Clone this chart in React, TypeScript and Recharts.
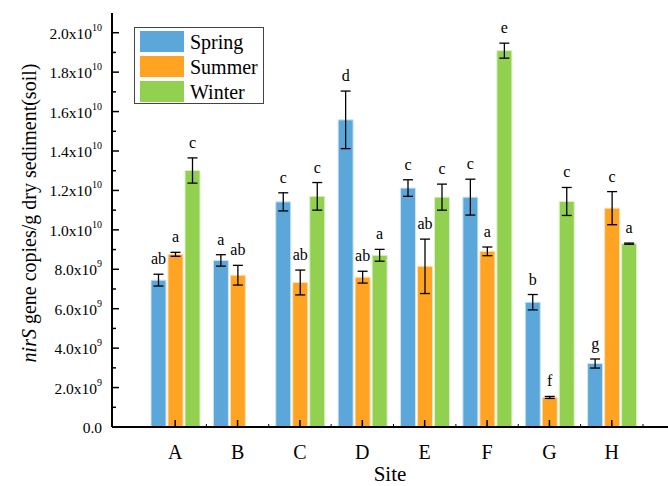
import React from "react";
import { BarChart, Bar, XAxis, YAxis, ErrorBar, LabelList, Legend } from "recharts";

const sites = ["A", "B", "C", "D", "E", "F", "G", "H"];

const spring = [7.45e9, 8.45e9, 1.142e10, 1.558e10, 1.212e10, 1.166e10, 6.33e9, 3.22e9];
const springErr = [3.0e8, 2.9e8, 4.6e8, 1.46e9, 4.2e8, 9.1e8, 3.9e8, 2.3e8];
const springSig = ["ab", "a", "c", "d", "c", "c", "b", "g"];

const summer = [8.76e9, 7.7e9, 7.33e9, 7.6e9, 8.15e9, 8.91e9, 1.5e9, 1.11e10];
const summerErr = [1.0e8, 5.0e8, 6.3e8, 3.0e8, 1.38e9, 2.2e8, 5.0e7, 8.4e8];
const summerSig = ["a", "ab", "ab", "ab", "ab", "a", "f", "c"];

const winter = [1.301e10, null, 1.17e10, 8.71e9, 1.166e10, 1.909e10, 1.144e10, 9.3e9];
const winterErr = [6.4e8, null, 7.0e8, 3.0e8, 6.6e8, 3.8e8, 7.1e8, 3.0e7];
const winterSig = ["c", "", "c", "a", "c", "e", "c", "a"];

const yTicks = [
  0, 1e9, 2e9, 3e9, 4e9, 5e9, 6e9, 7e9, 8e9, 9e9, 1e10,
  1.1e10, 1.2e10, 1.3e10, 1.4e10, 1.5e10, 1.6e10, 1.7e10, 1.8e10, 1.9e10, 2e10,
];

const data = sites.map((site, i) => ({
  site,
  spring: spring[i],
  springErr: springErr[i],
  summer: summer[i],
  summerErr: summerErr[i],
  winter: winter[i],
  winterErr: winterErr[i],
}));

const FONT = "'Liberation Serif', 'Times New Roman', serif";
const W = 668;
const H = 486;
const LEFT = 112;
const PAD_L = 32;
const PAD_R = 25;
const STEP = (W - LEFT - PAD_L - PAD_R) / sites.length;

const YTick = (props: any) => {
  const { x, y, payload } = props;
  const v = payload.value as number;
  const major = Math.round(v / 1e9) % 2 === 0;
  let label: React.ReactNode = null;
  if (major) {
    if (v === 0) {
      label = "0.0";
    } else {
      const exp = Math.floor(Math.log10(v) + 1e-9);
      const m = (v / Math.pow(10, exp)).toFixed(1);
      label = (
        <>
          <tspan>{m}x10</tspan>
          <tspan dy={-8} fontSize={10}>{exp}</tspan>
        </>
      );
    }
  }
  return (
    <g>
      <line x1={x} y1={y} x2={x + (major ? 7 : 4)} y2={y} stroke="#000" strokeWidth={1.5} />
      {label && (
        <text x={x - 10} y={y + 6} textAnchor="end" fontFamily={FONT} fontSize={15.5} fill="#000">
          {label}
        </text>
      )}
    </g>
  );
};

const BottomTick = (props: any) => {
  const { x, y, payload } = props;
  return (
    <g>
      <line x1={x} y1={y} x2={x} y2={y - 7} stroke="#000" strokeWidth={1.5} />
      <line x1={x + STEP / 2} y1={y} x2={x + STEP / 2} y2={y - 3} stroke="#000" strokeWidth={1} />
      <text x={x} y={y + 32} textAnchor="middle" fontFamily={FONT} fontSize={20} fill="#000">
        {payload.value}
      </text>
    </g>
  );
};

const TopTick = (props: any) => {
  const { x, y } = props;
  return (
    <g>
      <line x1={x} y1={y} x2={x} y2={y + 3} stroke="#000" strokeWidth={1} />
      <line x1={x + STEP / 2} y1={y} x2={x + STEP / 2} y2={y + 3} stroke="#000" strokeWidth={1} />
      <line x1={x - STEP / 2} y1={y} x2={x - STEP / 2} y2={y + 3} stroke="#000" strokeWidth={1} />
    </g>
  );
};

const YLabel = () => {
  const cx = 31;
  const cy = 213;
  return (
    <text
      x={cx}
      y={cy}
      transform={`rotate(-90, ${cx}, ${cy})`}
      textAnchor="middle"
      dominantBaseline="middle"
      fontFamily={FONT}
      fontSize={20}
      fill="#000"
    >
      <tspan fontStyle="italic">nirS</tspan>
      <tspan> gene copies/g dry sediment(soil)</tspan>
    </text>
  );
};

const XLabel = (props: any) => {
  const vb = props.viewBox || {};
  const cx = (vb.x ?? LEFT) + (vb.width ?? 556) / 2;
  return (
    <text x={cx} y={481} textAnchor="middle" fontFamily={FONT} fontSize={21} fill="#000">
      Site
    </text>
  );
};

const makeSig = (vals: (number | null)[], errs: (number | null)[], sig: string[]) => (props: any) => {
  const { x, y, width, height, value } = props;
  const i = sites.indexOf(value);
  if (i < 0) return null;
  const v = vals[i];
  const e = errs[i];
  const s = sig[i];
  if (!s || v == null || e == null || !height) return null;
  const errPx = (e * height) / v;
  return (
    <text x={x + width / 2} y={y - errPx - 10} textAnchor="middle" fontFamily={FONT} fontSize={16} fill="#000">
      {s}
    </text>
  );
};

const LegendBox = (props: any) => {
  const items = props.payload || [];
  return (
    <div
      style={{
        border: "1px solid #444",
        width: 130,
        height: 77,
        boxSizing: "border-box",
        paddingTop: 1,
        paddingLeft: 5,
        background: "#fff",
      }}
    >
      {items.map((it: any) => (
        <div key={it.value} style={{ display: "flex", alignItems: "center", height: 25 }}>
          <div style={{ width: 44, height: 21, background: it.color }} />
          <span style={{ marginLeft: 6, fontSize: 20, fontFamily: FONT, color: "#000", lineHeight: "20px" }}>
            {it.value}
          </span>
        </div>
      ))}
    </div>
  );
};

const siteOf = (d: any) => d.site;

export default function App() {
  return (
    <div style={{ position: "absolute", left: 0, top: 0, width: W, height: H, background: "#fff" }}>
      <BarChart
        width={W}
        height={H}
        data={data}
        margin={{ top: 13, right: 0, bottom: 0, left: 0 }}
        barSize={15}
        barGap={2}
      >
        <XAxis
          dataKey="site"
          height={59}
          padding={{ left: PAD_L, right: PAD_R }}
          axisLine={{ stroke: "#000", strokeWidth: 2 }}
          tickLine={false}
          tickSize={0}
          tickMargin={0}
          tick={<BottomTick />}
          interval={0}
          label={<XLabel />}
        />
        <XAxis
          xAxisId="top"
          orientation="top"
          dataKey="site"
          height={0}
          padding={{ left: PAD_L, right: PAD_R }}
          axisLine={{ stroke: "#000", strokeWidth: 2 }}
          tickLine={false}
          tickSize={0}
          tickMargin={0}
          tick={<TopTick />}
          interval={0}
        />
        <YAxis
          width={LEFT}
          domain={[0, 2.1e10]}
          ticks={yTicks}
          interval={0}
          allowDataOverflow
          axisLine={{ stroke: "#000", strokeWidth: 2 }}
          tickLine={false}
          tickSize={0}
          tickMargin={0}
          tick={<YTick />}
          label={<YLabel />}
        />
        <Legend
          layout="vertical"
          align="center"
          verticalAlign="middle"
          content={<LegendBox />}
          wrapperStyle={{ left: 134, top: 27, width: 130, height: 77 }}
        />
        <Bar dataKey="spring" name="Spring" fill="#5BA7DA" stroke="#CFE4F4" strokeWidth={1} isAnimationActive={false}>
          <ErrorBar dataKey="springErr" width={5} stroke="#000" strokeWidth={1.3} />
          <LabelList dataKey={siteOf} content={makeSig(spring, springErr, springSig)} />
        </Bar>
        <Bar dataKey="summer" name="Summer" fill="#FFA323" stroke="#FFE0B5" strokeWidth={1} isAnimationActive={false}>
          <ErrorBar dataKey="summerErr" width={5} stroke="#000" strokeWidth={1.3} />
          <LabelList dataKey={siteOf} content={makeSig(summer, summerErr, summerSig)} />
        </Bar>
        <Bar dataKey="winter" name="Winter" fill="#92D050" stroke="#DDF0CB" strokeWidth={1} isAnimationActive={false}>
          <ErrorBar dataKey="winterErr" width={5} stroke="#000" strokeWidth={1.3} />
          <LabelList dataKey={siteOf} content={makeSig(winter, winterErr, winterSig)} />
        </Bar>
      </BarChart>
    </div>
  );
}
